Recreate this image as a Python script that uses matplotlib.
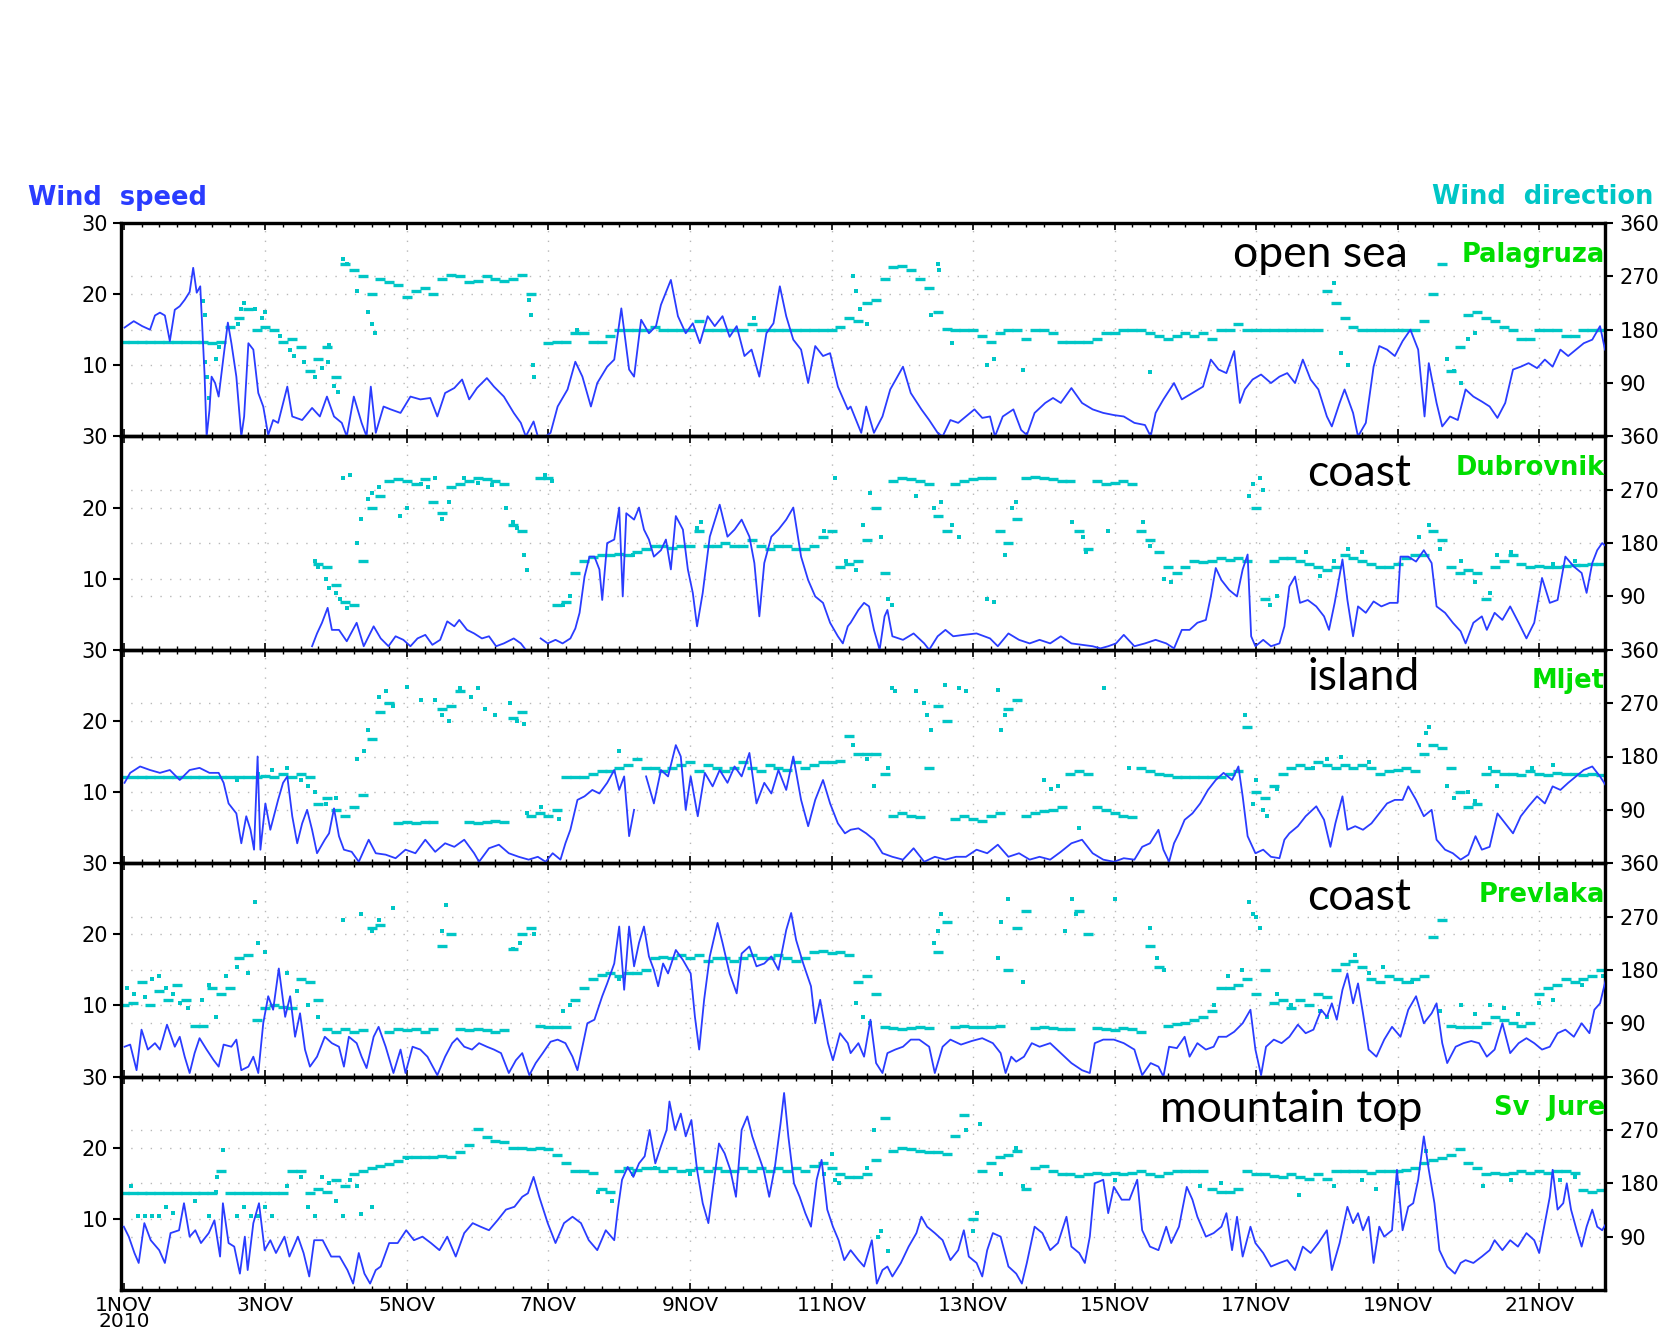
import numpy as np
import matplotlib
matplotlib.use('Agg')
import matplotlib.pyplot as plt
from matplotlib.ticker import MultipleLocator

nan = float('nan')

# ---------------- data (time in days since 1 NOV 2010 00UTC) ----------------
STATIONS = ['Palagruza', 'Dubrovnik', 'Mljet', 'Prevlaka', 'Sv  Jure']
CATEGORIES = ['open sea', 'coast', 'island', 'coast', 'mountain top']
XTICK_LABELS = ['1NOV\n2010', '3NOV', '5NOV', '7NOV', '9NOV', '11NOV',
                '13NOV', '15NOV', '17NOV', '19NOV', '21NOV']
XTICK_DAYS = [0, 2, 4, 6, 8, 10, 12, 14, 16, 18, 20]
SPEED_TICKS = [10, 20, 30]
DIR_TICKS = [90, 180, 270, 360]
DIR_STEP_DAYS = 0.125  # direction track sampled every 3 h

# wind speed (m/s): (day, value)
P1_SPEED = [(0.01,15.3),(0.14,16.2),(0.26,15.5),(0.37,15.0),(0.44,17.0),(0.51,17.4),(0.58,17.0),(0.65,13.4),(0.72,17.8),(0.79,18.3),(0.86,19.2),(0.93,20.3),(0.98,23.7),(1.03,20.2),(1.08,21.1),(1.14,8.9),(1.17,0.0),(1.21,3.7),(1.24,8.4),(1.29,7.5),(1.34,5.6),(1.41,11.3),(1.47,16.0),(1.52,13.1),(1.59,8.4),(1.66,0.0),(1.70,2.8),(1.76,13.1),(1.83,12.2),(1.90,6.1),(1.97,4.2),(2.04,0.2),(2.11,2.3),(2.18,1.9),(2.31,7.0),(2.38,2.8),(2.52,2.3),(2.66,4.0),(2.77,2.8),(2.87,5.6),(2.97,2.8),(3.08,1.9),(3.15,0.0),(3.25,5.6),(3.36,1.9),(3.43,0.0),(3.49,7.0),(3.56,0.5),(3.67,4.2),(3.77,3.8),(3.91,3.3),(4.05,5.6),(4.19,5.2),(4.33,5.4),(4.43,2.8),(4.54,6.1),(4.67,6.8),(4.78,8.0),(4.88,5.2),(4.99,6.8),(5.13,8.2),(5.23,7.0),(5.37,5.6),(5.51,3.3),(5.61,1.9),(5.68,0.0),(5.79,2.1),(5.85,0.0),(5.96,0.0),(6.03,0.5),(6.13,4.2),(6.27,6.6),(6.38,10.5),(6.48,8.4),(6.60,4.2),(6.69,7.5),(6.83,9.8),(6.93,10.8),(7.03,18.0),(7.14,9.4),(7.21,8.4),(7.31,16.4),(7.42,14.5),(7.52,15.5),(7.59,18.5),(7.73,22.0),(7.83,16.9),(7.94,14.5),(8.04,15.9),(8.14,13.1),(8.25,16.9),(8.35,15.5),(8.46,16.9),(8.56,14.0),(8.66,15.5),(8.77,11.3),(8.87,12.2),(8.98,8.4),(9.08,14.5),(9.18,15.9),(9.27,21.1),(9.36,16.9),(9.46,13.6),(9.57,12.2),(9.67,7.5),(9.77,12.7),(9.88,11.3),(9.98,11.7),(10.09,7.0),(10.23,3.8),
(10.27,4.2),(10.42,0.5),(10.49,4.2),(10.60,0.5),(10.72,2.8),(10.83,6.6),(11.01,9.8),(11.12,6.1),(11.27,3.8),(11.38,2.3),(11.50,0.5),(11.57,0.0),(11.68,2.3),(11.79,1.9),(11.90,2.8),(12.02,3.8),(12.13,2.6),(12.24,2.8),(12.31,0.0),(12.42,2.8),(12.57,3.8),(12.68,0.9),(12.76,0.2),(12.87,3.3),(13.02,4.7),(13.13,5.4),(13.24,4.7),(13.39,6.8),(13.54,4.7),(13.69,3.8),(13.84,3.3),(13.99,3.0),(14.13,2.8),(14.28,1.9),(14.43,1.6),(14.51,0.0),(14.58,3.3),(14.69,5.2),(14.84,7.5),(14.95,5.2),(15.10,6.1),(15.25,7.0),(15.36,10.8),(15.47,9.4),(15.58,8.9),(15.69,12.0),(15.77,4.7),(15.84,6.6),(15.95,8.0),(16.07,8.7),(16.21,7.5),(16.33,8.4),(16.44,8.9),(16.55,7.5),(16.66,10.8),(16.77,8.0),(16.88,6.6),(17.00,2.8),(17.07,1.4),(17.18,4.7),(17.25,6.6),(17.37,3.3),(17.44,0.0),(17.55,1.9),(17.66,9.8),(17.74,12.7),(17.85,12.2),(17.96,11.3),(18.07,13.4),(18.18,15.0),(18.29,12.2),(18.38,2.8),(18.44,10.3),(18.55,4.7),(18.63,1.4),(18.74,2.8),(18.85,2.3),(18.96,6.6),(19.07,5.6),(19.19,4.9),(19.30,4.2),(19.41,2.6),(19.52,4.7),(19.63,9.4),(19.74,9.8),(19.85,10.3),(19.97,9.6),(20.08,10.8),(20.19,9.8),(20.30,12.2),(20.41,11.3),(20.52,12.2),(20.63,13.1),(20.75,13.6),(20.86,15.5),(20.93,12.2)]

P2_SPEED = [(2.66,0.5),(2.73,2.3),(2.80,3.8),(2.88,5.9),(2.94,2.8),(3.04,2.8),(3.15,1.2),(3.29,3.8),(3.39,0.5),(3.53,3.3),(3.63,1.6),(3.74,0.5),(3.84,1.9),(3.95,1.4),(4.05,0.5),(4.15,1.6),(4.26,2.1),(4.36,0.7),(4.47,1.4),(4.57,4.0),(4.67,3.3),(4.74,4.2),(4.85,2.8),(4.95,2.3),(5.06,1.6),(5.16,1.9),(5.26,0.5),(5.37,0.9),(5.51,1.6),(5.61,0.9),(5.68,0.0),(5.78,nan),(5.89,1.6),(5.99,0.9),(6.10,1.4),(6.20,0.9),(6.31,1.6),(6.38,3.0),(6.44,5.2),(6.51,10.3),(6.58,13.1),(6.65,13.1),(6.72,11.3),(6.76,7.0),(6.83,15.0),(6.93,15.5),(7.00,20.0),(7.05,7.5),(7.10,19.2),(7.21,18.3),(7.28,20.0),(7.35,16.9),(7.42,15.5),(7.49,13.1),(7.59,14.0),(7.66,15.5),(7.73,11.3),(7.80,18.8),(7.90,16.9),(7.97,11.3),(8.04,8.0),(8.10,3.3),(8.18,8.0),(8.28,15.9),(8.42,20.4),(8.53,15.9),(8.63,16.9),(8.73,18.3),(8.84,15.9),(8.91,12.2),(8.98,4.7),(9.05,12.2),(9.15,15.9),(9.25,16.9),(9.36,18.3),(9.46,20.0),(9.57,13.1),(9.67,9.8),(9.77,7.5),(9.88,6.6),(9.98,3.8),(10.09,1.9),(10.16,0.9),(10.23,3.3),
(10.27,3.8),(10.38,5.6),(10.46,6.6),(10.53,6.1),(10.60,2.8),(10.68,0.0),(10.75,4.7),(10.79,5.6),(10.86,1.9),(11.01,1.4),(11.16,2.3),(11.31,0.9),(11.38,0.0),(11.50,1.9),(11.61,2.8),(11.72,1.9),(11.87,2.1),(12.05,2.3),(12.24,1.6),(12.35,0.5),(12.50,2.3),(12.65,1.4),(12.80,0.9),(12.94,1.4),(13.09,0.9),(13.24,1.9),(13.39,0.9),(13.54,0.7),(13.69,0.5),(13.80,0.2),(13.91,0.5),(14.02,0.9),(14.13,2.1),(14.28,0.5),(14.43,0.9),(14.58,1.4),(14.73,0.9),(14.84,0.2),(14.95,2.8),(15.06,2.8),(15.17,3.8),(15.29,4.2),(15.36,7.5),(15.43,11.5),(15.51,9.8),(15.62,8.4),(15.73,7.5),(15.81,11.3),(15.88,13.4),(15.93,1.9),(15.99,0.5),(16.10,1.4),(16.21,0.5),(16.33,0.9),(16.40,3.3),(16.47,8.9),(16.55,10.3),(16.62,6.6),(16.73,7.0),(16.85,6.1),(16.96,4.7),(17.03,2.8),(17.11,6.6),(17.22,12.7),(17.29,7.0),(17.37,1.9),(17.44,6.1),(17.55,5.2),(17.66,6.8),(17.77,6.1),(17.89,6.6),(18.00,6.6),(18.04,13.1),(18.15,13.1),(18.26,12.4),(18.37,14.0),(18.48,12.2),(18.55,6.1),(18.67,5.2),(18.78,3.8),(18.89,2.6),(18.96,0.9),(19.07,3.8),(19.19,4.7),(19.26,2.8),(19.37,5.2),(19.48,4.2),(19.59,6.1),(19.71,3.8),(19.82,1.6),(19.93,3.8),(20.04,10.1),(20.15,6.6),(20.26,7.0),(20.37,13.1),(20.49,11.7),(20.60,10.8),(20.67,8.0),(20.75,12.2),(20.82,14.0),(20.89,15.0),(20.95,14.5)]

P3_SPEED = [(0.01,11.3),(0.09,12.7),(0.23,13.6),(0.37,13.1),(0.51,12.7),(0.65,13.1),(0.79,11.7),(0.93,13.1),(1.07,13.4),(1.21,12.7),(1.34,12.7),(1.41,11.3),(1.48,8.4),(1.59,7.0),(1.66,2.8),(1.73,6.6),(1.79,4.7),(1.84,1.9),(1.89,15.0),(1.93,1.9),(2.00,8.4),(2.07,4.7),(2.18,8.9),(2.25,11.3),(2.31,12.2),(2.38,6.6),(2.45,2.8),(2.52,5.6),(2.59,7.5),(2.66,4.7),(2.73,1.4),(2.84,3.3),(2.90,4.2),(2.97,7.7),(3.04,3.8),(3.11,1.9),(3.22,1.6),(3.32,0.2),(3.46,3.3),(3.56,1.4),(3.70,1.2),(3.84,0.7),(3.98,1.9),(4.12,1.4),(4.26,3.3),(4.40,1.6),(4.54,2.8),(4.67,2.3),(4.81,3.3),(4.95,1.4),(5.02,0.2),(5.16,2.1),(5.30,2.6),(5.44,1.4),(5.58,0.9),(5.72,0.5),(5.85,0.9),(5.96,0.2),(6.06,1.4),(6.17,0.5),(6.24,2.8),(6.31,4.7),(6.41,8.9),(6.51,9.4),(6.62,10.3),(6.72,9.8),(6.83,11.3),(6.93,13.1),(7.00,10.3),(7.07,12.2),(7.14,3.8),(7.21,7.5),(7.30,nan),(7.38,12.2),(7.49,8.4),(7.59,13.1),(7.69,12.2),(7.80,16.6),(7.87,15.0),(7.94,7.5),(8.01,12.2),(8.11,6.6),(8.21,12.7),(8.32,10.8),(8.42,13.1),(8.53,11.3),(8.63,13.6),(8.73,12.2),(8.84,15.5),(8.94,8.4),(9.05,11.3),(9.15,9.8),(9.25,13.1),(9.36,10.3),(9.46,15.0),(9.57,8.9),(9.67,5.2),(9.77,8.9),(9.88,11.7),(9.98,8.4),(10.09,5.6),(10.19,4.2),
(10.27,4.7),(10.38,4.9),(10.49,4.2),(10.60,3.3),(10.72,1.4),(10.86,0.9),(11.01,0.5),(11.16,2.1),(11.31,0.2),(11.46,0.9),(11.61,0.5),(11.76,0.9),(11.90,0.9),(12.05,1.9),(12.20,1.4),(12.35,2.6),(12.50,0.9),(12.65,1.4),(12.80,0.5),(12.94,0.9),(13.09,0.5),(13.24,1.6),(13.39,2.8),(13.54,3.3),(13.69,1.4),(13.84,0.5),(13.99,0.2),(14.13,0.7),(14.28,0.5),(14.39,2.3),(14.50,2.8),(14.62,4.7),(14.69,1.9),(14.77,0.2),(14.84,2.8),(14.91,4.2),(14.99,6.1),(15.10,7.0),(15.21,8.4),(15.32,10.3),(15.43,11.7),(15.54,12.7),(15.66,11.7),(15.75,13.6),(15.81,9.4),(15.88,3.8),(15.99,1.4),(16.10,1.9),(16.21,0.9),(16.33,0.7),(16.40,3.3),(16.47,4.2),(16.59,5.2),(16.70,6.6),(16.85,8.0),(16.96,6.1),(17.05,2.3),(17.12,5.6),(17.22,9.4),(17.29,4.7),(17.40,5.2),(17.51,4.7),(17.63,5.6),(17.74,7.0),(17.85,8.4),(17.96,8.9),(18.07,8.9),(18.15,10.8),(18.26,8.9),(18.37,6.6),(18.48,7.5),(18.55,3.3),(18.67,1.9),(18.78,1.4),(18.89,0.5),(19.00,1.2),(19.10,3.8),(19.19,1.9),(19.30,2.3),(19.41,7.0),(19.52,5.6),(19.63,4.2),(19.74,6.6),(19.85,8.0),(19.97,9.4),(20.08,8.4),(20.19,10.8),(20.30,10.3),(20.41,11.3),(20.52,12.2),(20.63,13.1),(20.75,13.6),(20.86,12.2),(20.95,10.8)]

P4_SPEED = [(0.01,4.2),(0.09,4.5),(0.18,0.9),(0.25,6.6),(0.34,3.8),(0.44,4.7),(0.51,3.8),(0.61,7.3),(0.72,4.2),(0.79,5.6),(0.86,2.8),(0.93,0.5),(1.00,3.3),(1.07,5.4),(1.17,3.8),(1.27,2.3),(1.34,1.4),(1.41,4.5),(1.52,4.2),(1.59,5.2),(1.66,0.9),(1.76,1.4),(1.83,2.8),(1.90,0.5),(1.97,7.5),(2.04,11.3),(2.11,9.4),(2.19,15.2),(2.28,8.4),(2.35,11.3),(2.42,5.6),(2.49,8.9),(2.56,3.8),(2.63,1.4),(2.73,2.8),(2.84,5.6),(2.94,4.7),(3.04,4.2),(3.11,1.4),(3.18,5.6),(3.29,4.7),(3.36,2.8),(3.43,1.2),(3.53,5.6),(3.60,7.0),(3.70,4.2),(3.81,0.5),(3.91,3.8),(3.98,0.5),(4.08,4.2),(4.19,3.8),(4.29,2.8),(4.43,0.2),(4.54,2.8),(4.64,4.7),(4.71,5.4),(4.81,4.2),(4.92,3.8),(5.02,4.7),(5.13,4.2),(5.23,3.8),(5.33,3.3),(5.44,0.5),(5.54,2.3),(5.63,3.3),(5.73,0.2),(5.82,1.9),(5.92,3.3),(6.03,4.9),(6.13,5.2),(6.24,4.7),(6.34,2.8),(6.41,0.9),(6.48,4.2),(6.55,7.5),(6.65,8.0),(6.76,11.3),(6.83,13.1),(6.93,15.9),(7.00,21.1),(7.07,12.2),(7.14,21.1),(7.21,15.5),(7.28,18.8),(7.35,21.1),(7.42,16.9),(7.49,15.0),(7.55,12.7),(7.62,15.9),(7.69,14.5),(7.80,17.8),(7.90,16.4),(8.01,14.5),(8.07,8.4),(8.13,3.8),(8.20,10.8),(8.28,16.9),(8.39,21.6),(8.46,18.8),(8.56,14.5),(8.66,11.7),(8.73,17.3),(8.84,18.3),(8.94,15.5),(9.05,15.9),(9.15,16.9),(9.25,15.0),(9.36,20.6),(9.43,23.0),(9.50,19.2),(9.60,15.9),(9.71,12.7),(9.77,7.5),(9.84,10.8),(9.95,4.7),(10.02,2.3),(10.12,6.1),(10.23,4.7),
(10.27,3.3),(10.38,4.7),(10.46,2.8),(10.55,8.0),(10.63,1.9),(10.72,0.5),(10.79,3.3),(10.90,3.8),(11.01,4.2),(11.12,5.2),(11.24,5.2),(11.38,4.2),(11.46,0.5),(11.57,4.2),(11.68,5.2),(11.83,4.5),(11.98,5.0),(12.13,5.4),(12.28,4.7),(12.39,3.3),(12.46,0.5),(12.54,2.8),(12.61,2.1),(12.72,2.8),(12.83,4.7),(12.94,4.2),(13.09,4.7),(13.24,3.3),(13.39,1.9),(13.54,0.9),(13.65,0.5),(13.72,4.7),(13.84,5.2),(13.99,5.2),(14.13,4.7),(14.28,3.8),(14.39,0.2),(14.51,1.9),(14.62,1.4),(14.69,0.0),(14.77,4.2),(14.88,4.0),(14.99,5.6),(15.06,2.8),(15.17,4.7),(15.29,3.8),(15.40,4.2),(15.47,5.6),(15.58,5.6),(15.69,6.3),(15.81,7.5),(15.92,9.4),(15.99,3.8),(16.07,0.2),(16.14,4.2),(16.25,5.2),(16.36,4.7),(16.47,5.6),(16.59,7.3),(16.70,6.1),(16.81,6.6),(16.92,9.4),(17.00,8.4),(17.07,10.3),(17.14,8.0),(17.22,12.2),(17.29,14.5),(17.37,10.3),(17.44,13.1),(17.51,8.9),(17.59,3.8),(17.70,2.8),(17.81,5.2),(17.92,7.0),(18.04,5.6),(18.15,9.4),(18.26,11.3),(18.37,7.5),(18.48,8.9),(18.55,10.3),(18.63,4.7),(18.70,1.9),(18.82,4.2),(18.93,4.7),(19.04,5.0),(19.15,4.7),(19.26,2.8),(19.37,3.8),(19.48,7.5),(19.59,3.3),(19.71,4.7),(19.82,5.4),(19.93,4.7),(20.04,3.8),(20.15,4.2),(20.26,6.1),(20.37,6.6),(20.49,5.6),(20.60,7.5),(20.71,6.1),(20.78,9.4),(20.86,10.3),(20.95,14.0)]

P5_SPEED = [(0.00,8.9),(0.07,7.5),(0.15,5.2),(0.21,3.8),(0.29,9.4),(0.38,7.0),(0.50,5.6),(0.58,3.8),(0.66,8.0),(0.78,8.4),(0.85,12.2),(0.93,7.5),(1.01,8.4),(1.09,6.6),(1.20,8.0),(1.28,9.8),(1.36,4.7),(1.40,12.2),(1.48,6.6),(1.56,6.1),(1.64,2.3),(1.71,7.5),(1.75,2.8),(1.83,9.4),(1.91,12.2),(1.99,5.6),(2.07,7.0),(2.15,5.2),(2.27,7.5),(2.34,4.7),(2.46,7.5),(2.54,5.2),(2.62,1.9),(2.69,7.0),(2.81,7.0),(2.93,4.7),(3.05,4.7),(3.16,2.8),(3.24,0.9),(3.32,5.2),(3.40,2.3),(3.48,0.9),(3.56,2.8),(3.63,3.3),(3.75,6.6),(3.87,6.6),(3.99,8.4),(4.10,7.0),(4.22,7.5),(4.34,6.6),(4.46,5.6),(4.57,7.5),(4.69,4.7),(4.81,8.0),(4.93,9.4),(5.04,8.9),(5.16,8.4),(5.28,9.8),(5.40,11.3),(5.52,11.7),(5.63,13.1),(5.71,13.6),(5.79,15.9),(5.87,13.1),(5.99,9.4),(6.10,6.6),(6.22,9.4),(6.34,10.3),(6.46,9.4),(6.57,7.0),(6.69,5.6),(6.81,8.4),(6.93,7.0),(6.98,11.3),(7.04,15.5),(7.12,17.3),(7.20,15.9),(7.28,17.8),(7.36,18.8),(7.43,22.5),(7.51,17.8),(7.59,20.2),(7.67,22.5),(7.71,26.5),(7.79,22.5),(7.87,24.8),(7.94,21.6),(8.02,23.9),(8.10,16.9),(8.18,12.2),(8.26,9.4),(8.34,15.5),(8.41,20.6),(8.49,19.2),(8.57,16.9),(8.65,13.1),(8.73,22.5),(8.81,24.4),(8.88,21.6),(8.96,19.2),(9.04,16.9),(9.12,13.1),(9.20,17.3),(9.28,23.4),(9.33,27.7),(9.39,21.6),(9.47,15.0),(9.55,13.1),(9.63,10.8),(9.71,8.9),(9.79,15.5),(9.86,18.3),(9.94,11.3),(10.02,8.9),(10.10,7.0),(10.18,4.2),
(10.27,5.6),(10.38,4.2),(10.46,3.3),(10.57,7.0),(10.64,0.9),(10.72,2.8),(10.79,3.3),(10.86,1.9),(10.98,3.8),(11.09,6.1),(11.20,8.0),(11.27,10.3),(11.35,8.9),(11.46,8.0),(11.57,7.0),(11.68,4.2),(11.79,5.6),(11.87,8.4),(11.94,4.7),(12.05,3.8),(12.13,1.9),(12.20,5.6),(12.28,8.0),(12.39,7.5),(12.50,3.3),(12.61,2.3),(12.69,0.9),(12.76,3.8),(12.87,8.9),(12.98,8.0),(13.09,5.6),(13.20,6.6),(13.32,10.3),(13.39,6.1),(13.50,5.2),(13.58,3.8),(13.65,7.5),(13.72,15.0),(13.84,15.5),(13.91,10.8),(13.99,14.5),(14.10,12.7),(14.21,12.7),(14.32,15.5),(14.39,8.4),(14.50,6.1),(14.62,5.6),(14.73,8.9),(14.80,6.6),(14.91,8.9),(15.02,14.5),(15.10,12.7),(15.17,10.3),(15.29,7.5),(15.40,8.0),(15.51,8.9),(15.58,10.8),(15.66,5.6),(15.73,10.3),(15.81,4.7),(15.92,8.9),(15.99,6.6),(16.10,5.2),(16.21,3.3),(16.33,3.8),(16.44,4.2),(16.55,2.8),(16.66,6.1),(16.77,5.2),(16.88,6.6),(17.00,8.4),(17.07,2.8),(17.18,6.6),(17.29,11.7),(17.37,9.4),(17.44,10.8),(17.51,8.4),(17.59,10.3),(17.66,3.8),(17.74,8.9),(17.81,7.5),(17.92,8.4),(17.99,16.9),(18.07,8.4),(18.15,11.7),(18.22,12.2),(18.29,15.5),(18.37,21.6),(18.44,16.9),(18.52,12.2),(18.59,5.6),(18.70,3.3),(18.81,2.3),(18.89,3.8),(18.96,4.2),(19.07,3.8),(19.19,4.7),(19.30,5.6),(19.37,7.0),(19.48,5.6),(19.59,7.0),(19.70,6.1),(19.82,8.0),(19.93,7.0),(20.00,5.2),(20.08,9.4),(20.15,13.1),(20.19,16.9),(20.26,11.3),(20.34,12.2),(20.39,15.0),(20.45,11.3),(20.53,8.4),(20.60,6.1),(20.67,8.9),(20.75,11.3),(20.82,8.9),(20.89,8.4),(20.95,9.4)]

# wind direction (deg), main track every 3 h starting 1NOV 00
P1_DIR = [160,160,160,160,160,160,160,160,160,160,158,160,185,200,215,180,185,180,160,165,
          150,110,130,150,100,290,280,270,240,265,260,255,235,245,250,240,265,273,270,260,
          262,270,265,262,265,272,240,nan,157,160,160,175,175,160,160,170,180,180,180,180,
          185,180,180,180,180,195,180,180,180,180,180,190,180,180,180,180,180,180,180,180,
          180,185,200,195,225,230,265,285,287,280,265,250,210,182,180,180,180,170,160,175,
          180,180,165,180,180,175,160,160,160,160,165,175,175,180,180,180,175,170,165,170,
          175,170,175,165,180,180,190,180,180,180,180,180,180,180,180,180,245,225,200,185,
          180,180,180,180,180,180,180,195,240,290,110,150,205,210,200,195,185,180,165,165,
          180,180,180,170,170,180,180,180]
P2_DIR = [nan]*22 + [145,140,110,80,75,150,240,260,285,288,285,280,288,250,230,275,280,285,
          290,288,285,280,210,200,nan,290,290,75,80,130,150,157,160,160,162,160,165,170,175,
          175,172,175,175,200,175,175,180,175,175,185,175,170,175,175,170,170,175,190,200,
          140,145,150,185,240,130,285,290,288,285,280,225,200,280,285,288,290,290,200,180,
          220,290,292,290,288,285,285,200,170,285,280,282,285,280,200,185,165,140,130,140,
          150,148,150,155,152,155,150,240,85,150,155,155,150,145,140,135,140,160,155,150,
          145,140,140,145,155,160,160,200,185,140,130,135,130,85,140,150,160,145,140,142,
          140,140,142,143,143,145,145]
P3_DIR = [145,145,145,145,145,145,145,145,145,145,145,145,145,145,145,145,147,145,150,145,
          150,145,100,110,90,80,95,115,210,255,270,68,70,68,70,70,260,265,290,70,
          68,70,72,70,245,255,80,85,80,90,145,145,145,150,155,155,160,165,175,160,
          160,155,160,165,170,155,165,160,155,160,170,160,155,165,160,158,170,160,165,170,
          170,172,215,185,185,185,150,80,85,80,78,160,265,240,75,80,75,72,80,85,
          260,275,80,85,88,90,95,150,155,150,95,90,85,80,78,160,155,150,148,146,
          145,145,145,146,145,150,155,230,120,110,130,150,160,165,160,170,165,160,165,160,
          165,160,150,155,158,160,155,185,200,195,160,120,95,100,150,155,150,150,148,155,
          150,148,152,150,150,148,150,148]
P4_DIR = [120,125,160,120,145,130,155,130,85,85,150,140,150,200,205,95,115,120,118,115,
          165,160,130,80,75,80,75,78,250,255,75,80,78,80,75,80,220,240,80,78,
          80,78,76,78,215,240,250,85,84,84,84,130,150,165,172,175,170,175,175,180,
          200,202,200,205,200,205,195,200,200,195,200,205,200,200,205,200,195,200,210,212,
          208,210,205,160,170,140,84,82,80,82,84,82,210,260,84,85,84,84,83,85,
          180,250,280,82,84,82,80,80,280,240,82,80,78,82,80,75,220,185,85,88,
          90,95,100,110,150,150,155,165,140,180,125,130,115,130,120,140,135,180,190,195,
          185,165,160,170,165,160,165,170,235,265,85,84,84,84,90,100,95,90,85,90,
          140,150,155,165,160,165,170,180]
P5_DIR = [163,163,163,163,163,163,163,163,163,163,163,200,163,163,163,163,163,163,163,200,
          200,163,170,165,185,175,195,200,205,210,212,218,224,225,225,225,226,225,232,245,
          272,258,252,250,240,240,238,240,238,228,215,200,200,198,170,165,200,205,202,205,
          205,200,205,200,202,205,200,205,200,200,205,200,205,200,205,200,205,200,210,215,
          205,195,190,190,195,220,290,235,240,238,235,232,232,230,260,295,120,200,215,225,
          228,235,170,205,210,200,195,195,192,195,198,195,198,196,198,200,195,192,198,200,
          200,200,200,170,165,165,170,200,195,195,192,190,195,190,188,195,188,200,200,200,
          200,198,200,200,200,202,205,215,220,222,228,238,215,205,195,198,195,198,200,198,
          200,198,200,200,198,168,165,168]

# scattered extra direction observations: (day, deg)
P1_DIR_EXTRA = [(1.12,228),(1.14,205),(1.15,125),(1.18,100),(1.2,65),(1.3,130),(1.35,150),(1.62,190),(1.66,215),(1.7,225),(1.85,215),(1.95,200),(2.0,210),(2.2,170),(2.35,145),(2.4,135),(2.55,125),(2.7,100),(2.8,115),(2.88,125),(2.9,155),(2.97,85),(3.02,75),(3.1,300),(3.15,290),(3.3,245),(3.45,210),(3.5,190),(3.55,175),(5.72,230),(5.75,205),(5.78,120),(5.8,100),(6.4,180),(8.9,200),(10.3,270),(10.35,245),(10.4,215),(10.5,190),(11.4,205),(11.5,290),(11.52,280),(11.7,157),(12.2,120),(12.3,130),(12.7,112),(14.5,108),(17.1,258),(17.2,140),(17.3,120),(18.7,130),(18.8,110),(18.9,90),(19.0,165),(19.1,175)]
P2_DIR_EXTRA = [(2.7,150),(2.75,140),(2.85,120),(2.9,105),(3.0,95),(3.05,85),(3.15,70),(3.1,290),(3.2,295),(3.3,180),(3.35,220),(3.45,255),(3.5,265),(3.6,275),(3.9,225),(4.0,240),(4.2,280),(4.3,275),(4.4,290),(4.5,220),(4.6,250),(4.8,290),(5.0,282),(5.2,278),(5.4,240),(5.5,215),(5.55,205),(5.65,160),(5.7,135),(5.95,295),(6.05,285),(6.2,75),(6.3,90),(7.2,160),(8.1,205),(8.15,215),(9.9,200),(10.05,290),(10.2,150),(10.35,135),(10.45,210),(10.55,265),(10.7,190),(10.8,85),(10.85,75),(11.2,260),(11.45,240),(11.55,250),(11.7,210),(11.8,190),(12.2,85),(12.3,80),(12.45,160),(12.55,240),(12.6,250),(13.4,215),(13.55,190),(13.6,165),(13.9,200),(14.4,215),(14.5,175),(14.7,120),(14.8,115),(15.9,260),(15.95,280),(16.05,290),(16.1,270),(16.2,75),(16.3,90),(16.7,165),(16.9,125),(17.1,150),(17.3,170),(17.5,165),(18.3,190),(18.45,210),(18.6,170),(18.9,150),(19.1,115),(19.3,95),(19.4,160),(19.6,165),(20.2,145),(20.5,150)]
P3_DIR_EXTRA = [(1.6,140),(1.9,150),(2.1,157),(2.3,160),(2.5,140),(2.6,130),(2.7,120),(2.85,100),(3.0,110),(3.3,175),(3.4,190),(3.45,225),(3.6,280),(3.7,290),(3.8,265),(4.0,298),(4.2,275),(4.4,275),(4.5,250),(4.6,240),(4.75,295),(4.9,280),(5.0,295),(5.1,260),(5.25,250),(5.45,270),(5.55,240),(5.65,235),(5.7,85),(5.9,95),(6.15,75),(7.0,190),(10.3,200),(10.5,175),(10.6,130),(10.8,160),(10.85,295),(10.9,290),(11.2,290),(11.3,270),(11.35,250),(11.4,225),(11.6,300),(11.8,295),(11.9,290),(12.35,292),(12.45,250),(12.4,225),(13.0,140),(13.1,125),(13.2,130),(13.5,60),(13.85,295),(14.2,160),(15.85,250),(15.95,100),(16.0,140),(16.1,90),(16.15,80),(16.3,125),(16.8,160),(17.0,175),(17.2,180),(17.6,170),(18.3,200),(18.4,220),(18.45,230),(18.7,130),(18.8,110),(19.0,120),(19.1,105),(19.3,160),(19.4,130),(19.9,160),(20.2,165)]
P4_DIR_EXTRA = [(0.05,150),(0.15,140),(0.3,135),(0.4,165),(0.5,170),(0.6,150),(0.7,140),(0.8,125),(0.9,115),(1.1,130),(1.2,155),(1.3,100),(1.45,170),(1.6,185),(1.75,175),(1.85,295),(1.9,225),(2.0,210),(2.3,175),(2.45,145),(2.6,120),(2.75,100),(3.1,265),(3.35,275),(3.5,245),(3.6,265),(3.8,285),(4.55,290),(4.5,245),(5.5,215),(5.6,225),(5.8,240),(6.2,110),(6.3,120),(7.0,165),(10.35,125),(10.45,100),(10.55,90),(11.5,245),(11.55,275),(11.45,225),(12.4,260),(12.5,300),(12.35,200),(12.7,160),(13.3,245),(13.4,300),(13.45,275),(14.0,300),(14.5,250),(14.6,200),(14.7,180),(15.4,120),(15.6,170),(15.8,180),(15.9,295),(15.95,275),(16.0,270),(16.05,250),(16.3,140),(16.5,120),(16.9,110),(17.0,100),(17.4,205),(17.6,175),(17.8,185),(18.2,160),(18.6,110),(18.9,120),(19.1,105),(19.3,120),(19.5,115),(19.7,105),(20.0,125),(20.2,130),(20.6,155),(20.9,170)]
P5_DIR_EXTRA = [(0.1,175),(0.2,124),(0.3,124),(0.4,124),(0.5,124),(0.6,140),(0.7,130),(1.0,150),(1.2,124),(1.3,165),(1.32,190),(1.4,236),(1.6,124),(1.7,140),(1.8,124),(1.9,124),(2.0,140),(2.1,124),(2.3,175),(2.5,190),(2.6,140),(2.7,124),(2.8,190),(2.9,180),(3.0,150),(3.2,185),(3.3,175),(3.5,140),(3.1,125),(3.35,128),(4.0,222),(6.7,165),(6.9,150),(7.2,195),(7.5,205),(8.0,195),(9.9,195),(10.0,230),(10.05,185),(10.1,180),(10.5,205),(10.6,270),(10.65,90),(10.7,100),(10.8,65),(11.9,270),(12.1,280),(12.0,100),(12.05,130),(12.4,195),(12.6,240),(12.7,175),(14.0,185),(15.2,175),(15.5,180),(16.6,160),(17.1,175),(17.5,185),(17.7,170),(18.0,180),(18.4,235),(19.2,175),(19.6,185),(20.3,185),(20.5,190)]

SPEEDS = [P1_SPEED, P2_SPEED, P3_SPEED, P4_SPEED, P5_SPEED]
DIRS = [P1_DIR, P2_DIR, P3_DIR, P4_DIR, P5_DIR]
DIR_EXTRAS = [P1_DIR_EXTRA, P2_DIR_EXTRA, P3_DIR_EXTRA, P4_DIR_EXTRA, P5_DIR_EXTRA]

# ---------------- styling / layout ----------------
BLUE = '#2a3cff'
CYAN = '#00c6c6'
GREEN = '#00dd00'
GRID = '#b8b8b8'
W, H = 1675, 1334
LEFT_PX, RIGHT_PX = 121, 1605
TOP_PX, PANEL_PX = 223, 213.4
CAT_POS = [(1320, 266.7), (1359, 486), (1364, 690.3), (1359, 910.3), (1291, 1121.7)]

fig = plt.figure(figsize=(W / 100, H / 100), dpi=100)

for i in range(5):
    y0 = 1 - (TOP_PX + (i + 1) * PANEL_PX) / H
    ax = fig.add_axes([LEFT_PX / W, y0, (RIGHT_PX - LEFT_PX) / W, PANEL_PX / H])
    ax2 = ax.twinx()
    ax.set_zorder(ax2.get_zorder() + 1)
    ax.patch.set_visible(False)

    ax.set_xlim(-0.04, 20.93)
    ax.set_ylim(0, 30)
    ax2.set_ylim(0, 360)

    # dotted grid (drawn on the lower axes)
    for yv in [90, 120, 180, 240, 270]:
        ax2.axhline(yv, color=GRID, lw=1.0, ls=(0, (1, 6)), zorder=0)
    for xv in XTICK_DAYS[1:]:
        ax2.axvline(xv, color=GRID, lw=1.0, ls=(0, (1, 6)), zorder=0)

    # wind direction
    dirs = np.array(DIRS[i], dtype=float)
    tdir = np.arange(len(dirs)) * DIR_STEP_DAYS
    ax2.plot(tdir, dirs, ls='none', marker='_', ms=6.5, mew=2.4, color=CYAN, zorder=2)
    ex = np.array(DIR_EXTRAS[i], dtype=float)
    ax2.plot(ex[:, 0], ex[:, 1], ls='none', marker='s', ms=2.6, mew=0, color=CYAN, zorder=2)

    # wind speed
    sp = np.array(SPEEDS[i], dtype=float)
    ax.plot(sp[:, 0], sp[:, 1], color=BLUE, lw=1.3, zorder=3, clip_on=True)

    # ticks
    ax.set_yticks(SPEED_TICKS)
    ax.set_yticklabels([str(v) for v in SPEED_TICKS])
    ax2.set_yticks(DIR_TICKS)
    ax2.set_yticklabels([str(v) for v in DIR_TICKS])
    ax.tick_params(axis='y', direction='out', length=5.5, width=1.5, labelsize=15, pad=4)
    ax2.tick_params(axis='y', direction='out', length=5.5, width=1.5, labelsize=15, pad=5)
    ax.set_xticks(XTICK_DAYS)
    ax.xaxis.set_minor_locator(MultipleLocator(0.25))
    ax.tick_params(axis='x', which='major', direction='in', length=5, width=1.2,
                   top=True, bottom=True)
    ax.tick_params(axis='x', which='minor', direction='in', length=3, width=1.0,
                   top=True, bottom=True)
    if i == 4:
        ax.set_xticklabels(XTICK_LABELS)
        ax.tick_params(axis='x', which='major', labelsize=14.5, pad=4.5)
        for lab in ax.get_xticklabels():
            lab.set_linespacing(0.8)
    else:
        ax.set_xticklabels([])

    for a in (ax, ax2):
        for s in a.spines.values():
            s.set_linewidth(2.3)
            s.set_color('black')

    # station name (green) and category label
    ax.text(1.0, 1 - 38.5 / PANEL_PX, STATIONS[i], transform=ax.transAxes,
            ha='right', va='baseline', color=GREEN, fontsize=18.5,
            fontweight='bold', family='DejaVu Sans', zorder=5)
    cx, cy = CAT_POS[i]
    fig.text(cx / W, 1 - cy / H, CATEGORIES[i], ha='center', va='baseline',
             fontsize=32, family=['Lato', 'DejaVu Sans'], color='black')

fig.text(28 / W, 1 - 205 / H, 'Wind  speed', ha='left', va='baseline',
         color=BLUE, fontsize=18.5, fontweight='bold', family='DejaVu Sans')
fig.text(1653 / W, 1 - 204 / H, 'Wind  direction', ha='right', va='baseline',
         color=CYAN, fontsize=18.5, fontweight='bold', family='DejaVu Sans')

fig.savefig('out.png', dpi=100)
